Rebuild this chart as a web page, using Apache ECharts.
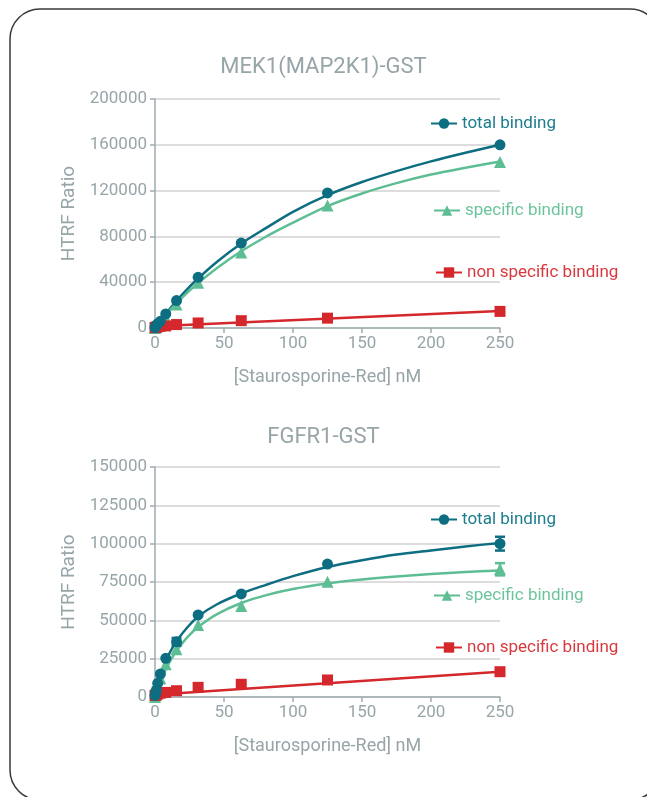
<!DOCTYPE html>
<html>
<head>
<meta charset="utf-8">
<script src="https://cdn.jsdelivr.net/npm/echarts@6/dist/echarts.min.js"></script>
<style>
  html, body { margin: 0; padding: 0; background: #fff; }
  #chart { width: 647px; height: 797px; }
</style>
</head>
<body>
<div id="chart"></div>
<script>
// Staurosporine-Red concentrations (nM) of the measured points
const conc = [0, 0.49, 0.98, 1.95, 3.9, 7.8, 15.6, 31.25, 62.5, 125, 250];

// MEK1(MAP2K1)-GST: measured points
const mekTotal       = [300, 1200, 2200, 3800, 5800, 12300, 24000, 44300, 74200, 118000, 160000];
const mekSpecific    = [0, 600, 1200, 2500, 4200, 9000, 20500, 39500, 66000, 107000, 145000];
const mekNonSpecific = [300, 500, 800, 1200, 1500, 1800, 3000, 4400, 6400, 8600, 14500];

// MEK1(MAP2K1)-GST: fitted curves
const mekFitX          = [0, 5, 10, 20, 30, 45, 62.5, 80, 100, 125, 150, 175, 200, 225, 250];
const mekTotalFit      = [0, 8100, 15700, 29600, 41900, 57900, 73800, 87000, 101500, 116000, 127500, 137000, 145500, 153000, 160000];
const mekSpecificFit   = [0, 7500, 14500, 27000, 38000, 52500, 67000, 79500, 92000, 106500, 117500, 126500, 134000, 140000, 145500];
const mekNonSpecFitX   = [0, 250];
const mekNonSpecFit    = [1500, 14800];

// FGFR1-GST: measured points
const fgfrTotal       = [1000, 2500, 4500, 8900, 15000, 25200, 36000, 53500, 67200, 86700, 100000];
const fgfrSpecific    = [0, 1200, 3000, 6000, 12000, 21300, 31100, 47000, 59300, 75200, 83300];
const fgfrNonSpecific = [1000, 1300, 1500, 2000, 2500, 3000, 4100, 6300, 8300, 11100, 16500];

// FGFR1-GST: fitted curves
const fgfrFitX         = [0, 2, 4, 8, 12, 16, 24, 32, 45, 62.5, 80, 100, 125, 150, 175, 200, 225, 250];
const fgfrTotalFit     = [0, 8000, 14000, 24000, 31000, 37000, 46000, 53000, 60500, 67500, 73000, 78800, 84800, 89200, 92900, 95600, 98200, 100500];
const fgfrSpecificFit  = [0, 5400, 10200, 18400, 25100, 30700, 39600, 46200, 54100, 61300, 66300, 70400, 74000, 76600, 78600, 80200, 81500, 82500];
const fgfrNonSpecFitX  = [0, 250];
const fgfrNonSpecFit   = [1500, 16500];

// Error bars: [concentration, low, high]
const fgfrTotalErr    = [[15.6, 33500, 38500], [250, 95500, 104500]];
const fgfrSpecificErr = [[250, 79300, 87300]];

const titles = ['MEK1(MAP2K1)-GST', 'FGFR1-GST'];
const xTicks = { min: 0, max: 250, interval: 50 };
const yTicksTop = { min: 0, max: 200000, interval: 40000 };
const yTicksBottom = { min: 0, max: 150000, interval: 25000 };

const names = ['total binding', 'specific binding', 'non specific binding'];
const colors = ['#0d6e82', '#5dbe93', '#d4282d'];
const legendColors = ['#1b7d8e', '#6cc49c', '#d9393e'];
const symbols = ['circle', 'triangle', 'rect'];

const FONT = 'Roboto, "Noto Sans", sans-serif';
const GRAY = '#97a5a8';

const pairs = (xs, ys) => xs.map((x, i) => [x, ys[i]]);

// Fitted curve (named, carries the legend icon)
function fitCurve(idx, grid, xs, ys) {
  return {
    type: 'line',
    name: names[idx],
    xAxisIndex: grid, yAxisIndex: grid,
    data: pairs(xs, ys),
    smooth: xs.length > 2 ? 0.3 : false,
    symbol: symbols[idx],
    showSymbol: false,
    lineStyle: { color: colors[idx], width: 2.5 },
    itemStyle: { color: colors[idx] },
    z: 2
  };
}

// Measured points
function points(idx, grid, values) {
  return {
    type: 'scatter',
    name: names[idx] + ' (points)',
    xAxisIndex: grid, yAxisIndex: grid,
    data: pairs(conc, values),
    symbol: symbols[idx],
    symbolSize: idx === 1 ? 12 : 11,
    itemStyle: { color: colors[idx], opacity: 1 },
    z: idx === 0 ? 5 : (idx === 2 ? 4 : 3)
  };
}

function errorBars(idx, grid, data) {
  return {
    type: 'custom',
    xAxisIndex: grid, yAxisIndex: grid,
    data: data,
    encode: { x: 0, y: [1, 2] },
    z: 6,
    renderItem: function (params, api) {
      const lo = api.coord([api.value(0), api.value(1)]);
      const hi = api.coord([api.value(0), api.value(2)]);
      const w = 5;
      const st = { stroke: colors[idx], lineWidth: 2.5 };
      return {
        type: 'group',
        children: [
          { type: 'line', shape: { x1: lo[0], y1: lo[1], x2: hi[0], y2: hi[1] }, style: st },
          { type: 'line', shape: { x1: lo[0] - w, y1: lo[1], x2: lo[0] + w, y2: lo[1] }, style: st },
          { type: 'line', shape: { x1: hi[0] - w, y1: hi[1], x2: hi[0] + w, y2: hi[1] }, style: st }
        ]
      };
    }
  };
}

function xAxis(grid) {
  return {
    type: 'value', gridIndex: grid,
    min: xTicks.min, max: xTicks.max, interval: xTicks.interval,
    name: '[Staurosporine-Red] nM',
    nameLocation: 'middle', nameGap: 40,
    nameTextStyle: { color: GRAY, fontSize: 18, fontFamily: FONT },
    axisLine: { show: true, lineStyle: { color: '#9eaaad', width: 1.5 } },
    axisTick: { show: true, length: 5, lineStyle: { color: '#9eaaad', width: 1.5 } },
    axisLabel: { color: GRAY, fontSize: 17, fontFamily: FONT, margin: 7 },
    splitLine: { show: false }
  };
}

function yAxis(grid, t) {
  return {
    type: 'value', gridIndex: grid,
    min: t.min, max: t.max, interval: t.interval,
    name: 'HTRF Ratio',
    nameLocation: 'middle', nameGap: 74, nameRotate: 90,
    nameTextStyle: { color: GRAY, fontSize: 19, fontFamily: FONT },
    axisLine: { show: true, lineStyle: { color: '#9eaaad', width: 1.5 } },
    axisTick: { show: true, length: 5, lineStyle: { color: '#9eaaad', width: 1.5 } },
    axisLabel: { color: GRAY, fontSize: 17, fontFamily: FONT, margin: 8, formatter: v => String(v) },
    splitLine: { show: true, lineStyle: { color: '#d2d2d2', width: 1.5 } }
  };
}

function legend(idx, left, centerY) {
  return {
    data: [names[idx]],
    left: left, top: centerY - 7,
    padding: 0,
    itemWidth: 26, itemHeight: 13,
    selectedMode: false,
    textStyle: { color: legendColors[idx], fontSize: 17, fontFamily: FONT }
  };
}

const chart = echarts.init(document.getElementById('chart'), null, { renderer: 'canvas' });
chart.setOption({
  backgroundColor: '#fff',
  animation: false,
  graphic: [{
    type: 'rect',
    shape: { x: 10, y: 9, width: 650, height: 791, r: 30 },
    style: { fill: 'none', stroke: '#3a3a3a', lineWidth: 1.5 },
    silent: true
  }],
  title: [
    { text: titles[0], left: 'center', top: 51, textStyle: { color: GRAY, fontSize: 22, fontWeight: 'normal', fontFamily: FONT } },
    { text: titles[1], left: 'center', top: 421, textStyle: { color: GRAY, fontSize: 22, fontWeight: 'normal', fontFamily: FONT } }
  ],
  grid: [
    { left: 155, top: 99, width: 345, height: 229 },
    { left: 155, top: 467, width: 345, height: 230 }
  ],
  xAxis: [xAxis(0), xAxis(1)],
  yAxis: [yAxis(0, yTicksTop), yAxis(1, yTicksBottom)],
  legend: [
    legend(0, 430, 122),
    legend(1, 433, 209),
    legend(2, 435, 271),
    legend(0, 430, 518),
    legend(1, 433, 594),
    legend(2, 435, 646)
  ],
  series: [
    fitCurve(0, 0, mekFitX, mekTotalFit),
    fitCurve(1, 0, mekFitX, mekSpecificFit),
    fitCurve(2, 0, mekNonSpecFitX, mekNonSpecFit),
    points(0, 0, mekTotal),
    points(1, 0, mekSpecific),
    points(2, 0, mekNonSpecific),
    fitCurve(0, 1, fgfrFitX, fgfrTotalFit),
    fitCurve(1, 1, fgfrFitX, fgfrSpecificFit),
    fitCurve(2, 1, fgfrNonSpecFitX, fgfrNonSpecFit),
    points(0, 1, fgfrTotal),
    points(1, 1, fgfrSpecific),
    points(2, 1, fgfrNonSpecific),
    errorBars(0, 1, fgfrTotalErr),
    errorBars(1, 1, fgfrSpecificErr)
  ]
});
</script>
</body>
</html>
